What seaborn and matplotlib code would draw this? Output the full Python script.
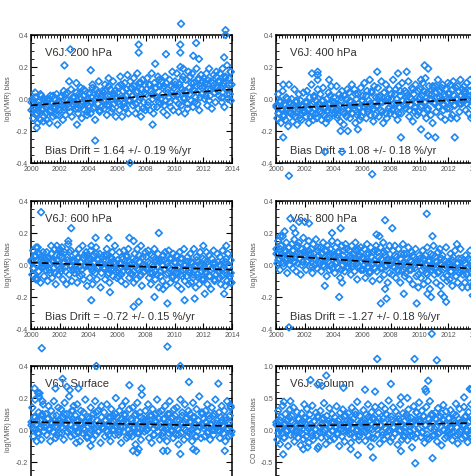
import numpy as np
import pandas as pd
import matplotlib
matplotlib.use("Agg")
import matplotlib.pyplot as plt
from matplotlib.ticker import MultipleLocator, FormatStrFormatter
import seaborn as sns

# retrieval times: 16 + 8 samples per year, 2000-2013
band_years = 2000 + (np.arange(14 * 16) + 0.5) / 16
core_years = 2000 + (np.arange(14 * 8) + 0.3) / 8

# bias values (x0.01), one row per year
p200_band = [
    -7, 0, -12, -5, 4, -10, -4, -15, -2, -8, -13, 2, -6, -3, -11, -1,
    -9, -13, -1, -4, -15, 2, -7, -3, -11, 0, -5, -10, 3, -16, -6, -2,
    -7, 2, -2, -13, 5, -5, -10, 0, 4, -3, 11, -8, -1, -11, 1, -4,
    1, -6, 10, -1, -9, 3, -4, 7, -12, -2, 2, -7, 5, -3, -10, 0,
    -4, 4, -9, 1, 9, -6, -1, -13, 6, 2, -3, 11, -8, 0, -5, 5,
    4, -6, 9, -1, -10, 2, 13, -4, 6, -8, 0, 11, -3, 5, -11, 1,
    -2, 8, -7, 14, 0, -11, 5, -3, 10, -6, 2, 15, -9, 4, -1, 7,
    7, -4, 13, 0, -9, 4, 16, -6, 10, 1, -11, 6, 12, -2, 9, -7,
    3, 13, -4, 9, -7, 5, 16, 0, -9, 10, 2, 7, -5, 14, -2, 8,
    -3, 11, 3, -8, 8, 14, -1, -10, 6, 1, 12, -5, 4, 17, -7, 7,
    11, -1, 16, 3, -8, 9, 20, -4, 6, 14, 1, -9, 12, 4, -3, 17,
    7, 14, -1, 16, -5, 10, 5, 1, 19, -3, 12, -7, 8, 15, 3, 11,
    13, 0, 10, 16, -4, 6, 19, 2, 11, -6, 8, 15, 4, -2, 17, 7,
    11, 2, 16, 7, -2, 19, 10, -5, 14, 6, 21, 0, 13, 3, 17, 9,
]
p200_core = [
    -2, -6, 1, -9, -4, 3, -7, 0,
    -5, 0, -8, -2, 2, -6, -3, -10,
    1, -4, -7, 3, -1, -5, 6, -3,
    -2, 4, -6, 1, -3, 6, -1, -8,
    3, -2, 7, -5, 0, 4, -7, 2,
    -1, 5, -4, 8, 2, -6, 3, 0,
    4, -3, 9, 1, -5, 6, -1, 11,
    2, 8, -3, 5, -1, 10, -6, 4,
    6, -2, 9, 3, -5, 7, 1, 12,
    0, 7, -4, 10, 4, -2, 8, 2,
    9, 2, -3, 7, 12, 0, 5, -6,
    3, 10, 6, -2, 8, 13, 1, 7,
    8, 2, 12, -1, 6, 10, 4, 14,
    5, 11, 1, 8, 13, 3, 9, -1,
]
p400_band = [
    -4, -12, 3, -9, -1, -15, -6, 5, -10, -3, -13, 1, -7, -17, -2, -8,
    -9, 0, -14, -4, 6, -11, -2, -16, -6, 3, -10, -1, -13, -5, 4, -8,
    -2, -11, 5, -7, -15, 1, -4, 9, -9, -13, 2, -6, -1, -12, 6, -3,
    -8, 3, -13, -1, 7, -10, -5, -15, 0, -7, 4, -12, -3, 8, -9, -2,
    1, -9, -3, 8, -12, -6, 3, -14, -1, 5, -8, -16, 2, -4, -11, 6,
    -7, 4, -12, -2, 9, -9, -4, 6, -15, 0, -10, 3, -6, -13, 7, -1,
    2, -8, 10, -3, -12, 5, -6, -1, 12, -10, 4, -4, -14, 8, -2, 1,
    -5, 7, -11, 2, -2, 11, -8, -15, 4, -1, 9, -12, 0, -6, 6, -9,
    3, -7, 12, -3, -10, 6, 0, -13, 8, -5, 2, -9, 10, -1, -4, 5,
    -6, 4, -1, 11, -11, 1, -4, 7, -14, 3, -8, 9, -2, -10, 5, 0,
    6, -5, 2, 10, -9, -2, 13, -12, 4, -6, 8, 0, -10, 3, -15, 7,
    -3, 8, -8, 1, 12, -5, 5, -11, -1, 9, -7, 3, -13, 6, -2, 10,
    4, -6, 9, -1, -10, 11, 2, -4, 7, -12, 0, 5, -8, 12, -3, 6,
    -2, 8, 3, -7, 10, 0, -9, 5, 12, -4, 1, -11, 7, -1, 9, -6,
]
p400_core = [
    -5, -9, -2, -7, -11, -4, 0, -8,
    -3, -10, -6, -1, -8, -12, -4, -7,
    -8, -2, -6, -11, -3, 1, -9, -5,
    -4, -9, -1, -6, -12, -3, 2, -7,
    -2, -7, -10, -4, 1, -6, -9, 0,
    -6, -1, -9, -3, 3, -8, -5, -11,
    -1, -5, 2, -8, -3, 5, -6, -10,
    -4, 1, -7, -2, 4, -9, 0, -5,
    0, -6, 3, -3, -9, 5, -1, -4,
    -3, 2, -7, 0, 6, -5, -2, -8,
    1, -4, 5, -2, -7, 3, -1, 8,
    -2, 4, -5, 1, 7, -3, 2, -6,
    3, -1, 6, -4, 0, 8, -3, 2,
    0, 5, -3, 2, 8, -2, 4, -5,
]
p600_band = [
    2, -6, 9, -2, 5, -9, 0, 11, -4, 7, -11, 3, -1, 8, -7, 4,
    -3, 8, -10, 5, 1, -5, 12, -8, 3, -2, 10, -12, 6, 0, -6, 9,
    6, -4, 11, -9, 2, 8, -1, -12, 5, 13, -6, 0, 9, -10, 3, -3,
    -5, 7, 0, -11, 4, 10, -7, 2, -3, 12, -9, 6, -1, 8, -13, 3,
    4, -8, 9, -2, -12, 6, 1, -5, 11, -9, 3, -1, 7, -14, 0, 5,
    -2, 6, -9, 3, 10, -6, 0, -11, 5, -3, 8, -7, 2, 12, -4, -8,
    3, -7, 8, -2, -10, 5, -4, 9, 0, -12, 6, -1, 10, -8, 2, -5,
    -6, 4, -11, 7, -1, -9, 10, -3, 2, -7, 12, -13, 5, 0, -4, 8,
    5, -3, 9, -8, 1, -12, 6, -5, -1, 10, -9, 3, -6, 7, -14, 2,
    -7, 3, -10, 6, -3, 8, -13, 1, -5, 9, -2, -11, 4, -8, 7, -4,
    2, -9, 6, -13, -1, 8, -6, -15, 4, -3, 10, -10, 0, -7, 5, -12,
    -5, 7, -11, 1, -8, 10, -3, -14, 5, -6, 2, -12, 8, -1, -9, 4,
    -9, 3, -4, 8, -12, 0, 6, -7, -15, 4, -2, 9, -10, 1, -6, 7,
    2, -8, 5, -12, -3, 9, -6, 0, -13, 4, -10, 7, -1, -7, 3, -11,
]
p600_core = [
    3, -2, 6, 0, -4, 5, 1, -1,
    0, 4, -3, 7, 2, -5, 3, -1,
    -2, 5, 1, -4, 3, 8, -1, 2,
    2, -3, 5, -1, -6, 4, 0, 6,
    -1, 4, -4, 2, 7, -2, 1, -5,
    3, -2, 6, -5, 0, 4, -3, 1,
    -3, 1, -6, 4, -1, 5, -4, 0,
    1, -4, 3, -2, 6, -6, 0, -1,
    -2, 2, -5, 0, 5, -4, -1, 3,
    -4, 0, 3, -6, -1, 4, -3, -7,
    1, -5, -2, 4, -7, 0, -3, 2,
    -3, 2, -6, -1, 3, -8, 0, -4,
    -1, -5, 2, -7, -3, 1, -9, -2,
    -4, 0, -7, -2, 2, -6, -1, -5,
]
p800_band = [
    10, 1, 15, 4, -3, 12, 7, 18, -1, 9, 3, 14, -5, 6, 11, 0,
    3, 13, -2, 9, 16, 5, -4, 11, 1, 14, 7, -6, 10, 2, 17, 6,
    8, -3, 12, 3, 15, -1, 7, 10, -5, 13, 4, 0, 16, -2, 9, 6,
    1, 11, -4, 7, 14, -1, 9, 3, -7, 12, 5, -3, 10, 0, 15, 6,
    6, -5, 11, 2, 14, -2, 8, -8, 4, 12, 0, 9, -4, 13, 3, -1,
    -2, 9, 4, -6, 12, 1, 7, -4, 14, 3, -9, 10, -1, 6, 11, -3,
    5, -3, 10, -8, 2, 13, -1, 7, -5, 11, 0, -10, 8, 3, -2, 12,
    -4, 8, 1, -9, 11, 4, -2, 14, -6, 6, -1, 9, -11, 3, 12, 0,
    3, -6, 9, -1, 12, -8, 5, -3, 10, 0, -11, 7, -4, 13, 1, -7,
    -5, 7, -1, 11, -9, 3, -3, 8, -12, 5, 0, 10, -7, 2, -14, 6,
    4, -8, 1, 9, -12, -2, 6, -5, 11, -10, 2, -15, 7, -3, -1, 12,
    -6, 5, -11, 2, 8, -4, 10, -13, 0, 6, -8, 3, -2, 11, -10, 1,
    2, -9, 7, -4, -13, 5, -1, 9, -7, 1, -11, 4, -5, 10, -2, -14,
    -6, 3, -11, 6, -2, -14, 4, -8, 9, -4, 0, -12, 5, -7, 1, -10,
]
p800_core = [
    7, 3, 10, 5, 1, 8, 4, 11,
    5, 9, 2, 7, 12, 4, 0, 8,
    6, 2, 9, 4, -1, 7, 3, 11,
    3, 7, 0, 5, 9, 2, 6, -2,
    5, 1, 8, 3, -3, 6, 2, 10,
    2, 6, -1, 4, 9, 1, 5, -3,
    4, 0, 7, 2, -4, 5, 1, 9,
    1, 5, -2, 3, 8, 0, 4, -5,
    3, -1, 6, 1, -4, 4, 0, 7,
    0, 4, -3, 2, 6, -2, 1, -6,
    2, -3, 4, 0, -6, 3, -1, 6,
    -2, 2, -5, 1, 4, -3, 0, -7,
    0, -4, 3, -2, -7, 1, -3, 4,
    -3, 1, -6, -1, 3, -5, 0, -8,
]
sfc_band = [
    3, 14, -4, 8, 19, 0, 6, -2, 11, 23, 2, -6, 9, 16, -1, 5,
    10, -3, 7, 15, 1, -7, 12, 4, -1, 18, 6, -5, 9, 2, 14, -2,
    4, 13, -2, 8, -6, 17, 3, 10, -1, 6, 21, 0, -4, 12, 7, 15,
    -3, 9, 2, 16, -1, 6, -7, 12, 4, -2, 11, 0, 19, 5, -5, 8,
    7, -2, 14, 3, -6, 10, 1, 18, -3, 6, 12, -1, 4, -8, 15, 2,
    1, 11, -4, 6, 16, -1, 8, 3, -7, 13, 0, 9, 5, -3, 20, 2,
    8, -3, 12, 2, -8, 15, 5, -1, 10, 18, -5, 4, 0, 13, -2, 7,
    -4, 14, 1, 9, -9, 6, 17, 2, -2, 11, -6, 22, 3, 7, -1, 12,
    6, 0, 16, -5, 9, 3, -8, 13, 1, -3, 10, 5, 19, -1, 7, -6,
    2, 12, -4, 7, -1, 15, 3, -7, 10, -2, 18, 5, 0, 8, -5, 13,
    9, -3, 14, 1, -9, 6, 19, -2, 11, 4, -6, 16, 0, 8, -4, 12,
    -2, 10, 5, -7, 17, 1, 8, -4, 13, -1, 6, 21, 2, -5, 11, 3,
    7, -4, 12, 2, 16, -1, 9, -6, 4, 14, 0, -3, 10, 19, 1, 6,
    0, 11, -5, 8, 15, 3, -2, 12, -7, 6, 18, 1, -4, 9, 14, -1,
]
sfc_core = [
    5, 1, 8, 3, -2, 6, 10, 2,
    3, 7, 0, 5, 9, 2, -3, 6,
    6, 2, 10, 4, -1, 7, 3, 12,
    2, 6, -2, 4, 8, 1, 5, -4,
    5, 0, 7, 3, 11, -1, 4, 8,
    1, 6, 3, -3, 8, 4, 0, 10,
    4, -1, 7, 2, 9, 5, -4, 3,
    6, 2, 10, -2, 4, 8, 1, 5,
    0, 5, 3, 9, -3, 6, 2, 11,
    4, -2, 7, 1, 5, 10, -1, 3,
    2, 6, -3, 4, 9, 1, 7, -1,
    5, 0, 8, 3, -4, 6, 2, 10,
    1, 5, -2, 7, 3, 9, 0, 4,
    3, -1, 6, 2, 8, 0, 5, -3,
]
col_band = [
    12, -15, 30, 2, -22, 20, -5, 38, 8, -12, 25, -2, 15, -25, 5, 32,
    -8, 22, 0, 35, -18, 10, -3, 28, -12, 17, 4, -24, 26, -6, 13, 40,
    18, -10, 33, 3, -20, 24, 9, -4, 38, -15, 14, 1, 27, -8, 20, -26,
    5, 30, -12, 16, -3, 42, 0, -22, 22, 10, -7, 34, -16, 12, 25, -1,
    -14, 20, 6, 37, -5, 14, -25, 27, 2, -10, 32, 8, -18, 23, -2, 15,
    26, -6, 12, -20, 35, 3, 18, -11, 29, -1, 44, 7, -16, 22, -4, 10,
    -2, 31, 9, -17, 24, 4, 40, -9, 15, -26, 28, 1, 19, -13, 36, 6,
    13, -7, 27, -21, 8, 38, -3, 18, -14, 33, 2, 24, -10, 46, 0, -18,
    21, -12, 35, 4, -6, 29, 11, -23, 17, -2, 40, 7, -15, 26, -9, 14,
    -4, 24, -16, 32, 6, -9, 19, -27, 12, 37, 1, -12, 28, -5, 16, 43,
    15, -11, 30, -3, 22, -20, 8, 36, -7, 18, -14, 45, 3, 25, -9, 11,
    -8, 27, 5, -18, 34, 12, -4, 21, -24, 16, 39, 0, -13, 29, 7, -2,
    19, -6, 31, 2, -16, 25, 10, -9, 41, 4, -21, 17, 33, -3, 12, -13,
    8, 36, -10, 22, 1, -19, 28, 14, -5, 40, -12, 18, 2, 33, -7, 25,
]
col_core = [
    8, -5, 15, 3, -12, 10, 0, 20,
    2, 12, -8, 6, 18, -3, 9, -14,
    10, -2, 16, 4, -9, 13, 1, 22,
    -4, 9, 19, 0, -11, 14, 6, -1,
    12, 3, -7, 17, 8, -2, 21, 5,
    4, 15, -6, 10, 24, 1, -10, 13,
    14, -3, 9, 20, 2, -12, 16, 6,
    1, 18, 7, -8, 12, 25, -2, 10,
    16, 4, -5, 13, 22, 0, 9, -11,
    5, 19, -3, 11, -9, 15, 27, 2,
    13, -4, 21, 7, -12, 17, 3, 24,
    2, 16, -6, 12, 26, 0, 9, -10,
    18, 5, -4, 14, 23, -8, 11, 1,
    7, 20, -2, 12, -9, 17, 3, 25,
]

# outlying retrievals (year, bias)
p200_out_x = [2000.4, 2000.85, 2002.33, 2002.74, 2003.2, 2004.16, 2004.47, 2006.9, 2007.5, 2007.5,
              2008.47, 2008.65, 2009.4, 2010.4, 2010.4, 2010.45, 2010.6, 2011.3, 2011.5, 2011.7,
              2013.45, 2013.55, 2013.55, 2013.9]
p200_out_y = [-0.18, -0.14, 0.21, 0.31, -0.16, 0.18, -0.26, -0.40, 0.34, 0.29,
              -0.16, 0.22, 0.28, 0.34, 0.29, 0.47, 0.19, 0.27, 0.35, 0.25,
              0.26, 0.43, 0.40, 0.17]
p400_out_x = [2000.5, 2000.9, 2000.5, 2000.9, 2002.5, 2002.9, 2002.9, 2002.9, 2003.4, 2003.7,
              2004.5, 2004.6, 2005.0, 2005.7, 2006.7, 2007.05, 2008.5, 2008.7, 2009.1, 2010.1,
              2010.1, 2010.35, 2010.6, 2010.6, 2011.1, 2012.2, 2012.45, 2013.6]
p400_out_y = [0.09, 0.09, -0.24, -0.48, 0.16, 0.17, 0.15, 0.12, -0.33, 0.12,
              -0.20, -0.33, -0.20, -0.19, -0.47, 0.17, 0.16, -0.24, 0.17, 0.12,
              -0.19, 0.21, 0.19, -0.23, -0.24, -0.12, -0.24, -0.12]
p600_out_x = [2000.3, 2000.35, 2000.4, 2000.45, 2000.7, 2000.75, 2001.8, 2002.0, 2002.1, 2002.6,
              2002.8, 2004.2, 2004.2, 2004.5, 2005.4, 2005.5, 2006.85, 2007.15, 2007.15, 2007.5,
              2008.6, 2008.9, 2009.2, 2009.5, 2009.5, 2010.7, 2011.4, 2012.0, 2012.1, 2013.45,
              2013.6, 2013.9]
p600_out_y = [0.06, 0.11, -0.08, -0.09, 0.33, -0.52, 0.12, 0.10, 0.08, 0.15,
              0.23, 0.12, -0.22, 0.17, 0.17, -0.17, 0.17, 0.15, -0.26, -0.23,
              -0.20, 0.20, -0.15, -0.24, -0.51, -0.22, -0.21, 0.12, -0.18, -0.18,
              0.12, -0.11]
p800_out_x = [2000.3, 2000.6, 2000.9, 2001.0, 2001.2, 2001.35, 2001.6, 2002.0, 2002.3, 2003.4,
              2003.9, 2004.4, 2004.5, 2004.6, 2007.0, 2007.2, 2007.3, 2007.6, 2007.6, 2007.7,
              2008.1, 2008.9, 2009.8, 2010.5, 2010.55, 2010.8, 2010.85, 2010.9, 2011.5, 2011.7,
              2011.85, 2012.6, 2013.7, 2013.7]
p800_out_y = [0.18, 0.21, -0.39, 0.29, 0.23, 0.20, 0.27, 0.27, 0.26, -0.13,
              0.20, -0.20, 0.23, -0.11, 0.19, 0.18, -0.24, 0.28, -0.15, -0.21,
              0.23, -0.18, -0.24, 0.32, -0.18, -0.20, -0.43, 0.18, -0.18, -0.20,
              -0.23, 0.13, -0.14, -0.19]
sfc_out_x = [2000.25, 2000.4, 2000.5, 2000.55, 2000.8, 2001.7, 2002.2, 2002.5, 2002.7, 2003.15,
             2003.3, 2004.15, 2004.55, 2006.85, 2007.1, 2007.4, 2007.5, 2007.7, 2009.2, 2009.5,
             2010.4, 2010.4, 2011.0, 2011.3, 2011.5, 2013.05, 2013.5, 2013.9]
sfc_out_y = [0.26, -0.07, 0.23, 0.21, 0.18, 0.26, 0.32, 0.27, 0.25, -0.08,
             0.26, -0.10, 0.40, 0.28, -0.13, -0.14, -0.12, 0.26, -0.13, -0.13,
             0.40, -0.15, 0.30, -0.12, -0.13, 0.29, -0.13, 0.15]
col_out_x = [2000.3, 2000.5, 2000.55, 2001.0, 2001.9, 2002.2, 2002.4, 2002.9, 2002.9, 2003.2,
             2003.5, 2004.7, 2005.2, 2005.7, 2006.2, 2006.75, 2006.9, 2007.05, 2008.0, 2008.7,
             2008.7, 2009.15, 2009.65, 2009.7, 2010.4, 2010.45, 2010.6, 2010.9, 2011.2, 2013.1,
             2013.5, 2013.65]
col_out_y = [0.0, -0.38, 0.44, 0.45, -0.30, -0.27, 0.78, 0.71, -0.29, 0.69,
             0.85, 0.66, -0.30, -0.39, 0.63, -0.43, 0.60, 1.11, 0.72, 0.51,
             -0.33, 0.50, 1.11, -0.52, 0.64, 0.60, 0.77, -0.44, 1.09, 0.51,
             0.64, 0.64]

# fitted drift lines (value at 2000 and 2014)
trend_start = [-0.04, -0.06, 0.015, 0.06, 0.05, 0.06]
trend_end = [0.06, 0.0, -0.03, -0.025, 0.025, 0.11]

titles = ["V6J: 200 hPa", "V6J: 400 hPa", "V6J: 600 hPa", "V6J: 800 hPa", "V6J: Surface", "V6J: Column"]
drift_labels = ["Bias Drift = 1.64 +/- 0.19 %/yr", "Bias Drift = 1.08 +/- 0.18 %/yr",
                "Bias Drift = -0.72 +/- 0.15 %/yr", "Bias Drift = -1.27 +/- 0.18 %/yr", None, None]
ylabels = ["log(VMR) bias"] * 5 + ["CO total column bias"]

bands = [p200_band, p400_band, p600_band, p800_band, sfc_band, col_band]
cores = [p200_core, p400_core, p600_core, p800_core, sfc_core, col_core]
outs = [(p200_out_x, p200_out_y), (p400_out_x, p400_out_y), (p600_out_x, p600_out_y),
        (p800_out_x, p800_out_y), (sfc_out_x, sfc_out_y), (col_out_x, col_out_y)]

sns.set_style("ticks")
plt.rcParams["font.family"] = ["Liberation Sans", "DejaVu Sans"]
plt.rcParams["axes.unicode_minus"] = False

W, H = 471, 476
fig = plt.figure(figsize=(W / 100, H / 100), dpi=100)

# panel boxes in pixels: left, top, width, height
col_left = [31, 276]
row_top = [35, 201, 366]
pw, ph = 201, 128

blue = "#1f88f2"
for i in range(6):
    r, c = divmod(i, 2)
    x0, y0 = col_left[c], row_top[r]
    ax = fig.add_axes([x0 / W, 1 - (y0 + ph) / H, pw / W, ph / H])

    bx, by = outs[i]
    df = pd.DataFrame({
        "year": np.concatenate([band_years, core_years, bx]),
        "bias": np.concatenate([np.array(bands[i]) / 100.0, np.array(cores[i]) / 100.0, by]),
    })
    sns.scatterplot(data=df, x="year", y="bias", ax=ax, marker="D", s=12,
                    facecolor="none", edgecolor=blue, linewidth=1.2,
                    clip_on=False, zorder=3, legend=False)
    sns.lineplot(x=[2000, 2014], y=[trend_start[i], trend_end[i]], ax=ax,
                 color="black", linestyle=(0, (4, 2.5)), linewidth=1.2, zorder=4)

    ax.set_xlim(2000, 2014)
    if i == 5:
        ax.set_ylim(-1.0, 1.0)
        ax.yaxis.set_major_locator(MultipleLocator(0.5))
        ax.yaxis.set_minor_locator(MultipleLocator(0.1))
    else:
        ax.set_ylim(-0.4, 0.4)
        ax.yaxis.set_major_locator(MultipleLocator(0.2))
        ax.yaxis.set_minor_locator(MultipleLocator(0.05))
    ax.yaxis.set_major_formatter(FormatStrFormatter("%.1f"))
    ax.xaxis.set_major_locator(MultipleLocator(2))
    ax.xaxis.set_minor_locator(MultipleLocator(0.2))
    ax.tick_params(which="both", direction="in", top=True, right=True,
                   labelsize=5, labelcolor="#555555", color="black", pad=2)
    ax.tick_params(which="major", length=4, width=0.8)
    ax.tick_params(which="minor", length=2, width=0.6)
    for sp in ax.spines.values():
        sp.set_linewidth(1.1)
        sp.set_color("black")
    ax.set_xlabel("")
    ax.set_ylabel(ylabels[i], fontsize=5, color="#555555", labelpad=2.5)

    ax.text(0.07, 0.86, titles[i], transform=ax.transAxes, fontsize=8,
            color="#333333", va="center", ha="left", zorder=1)
    if drift_labels[i]:
        ax.text(0.07, 0.095, drift_labels[i], transform=ax.transAxes, fontsize=8,
                color="#333333", va="center", ha="left", zorder=1)

fig.savefig("out.png", dpi=100)
